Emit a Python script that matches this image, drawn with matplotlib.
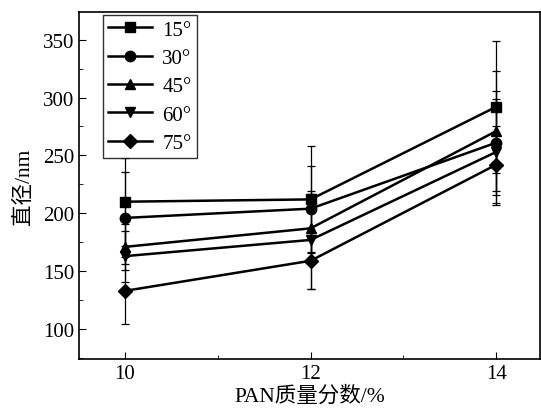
import matplotlib
matplotlib.use('Agg')
import matplotlib.pyplot as plt
from matplotlib.ticker import MultipleLocator
from matplotlib.lines import Line2D

plt.rcParams['font.family'] = ['Liberation Serif', 'Noto Sans CJK SC']

x = [10, 12, 14]
labels = ['15°', '30°', '45°', '60°', '75°']
markers = ['s', 'o', '^', 'v', 'D']
means = [
    [210, 212, 292],
    [196, 204, 261],
    [171, 187, 271],
    [163, 177, 253],
    [133, 159, 242],
]
errs = [
    [38, 46, 57],
    [40, 37, 45],
    [20, 30, 52],
    [22, 42, 46],
    [29, 24, 33],
]

fig = plt.figure(figsize=(5.41, 4.14), dpi=100)
ax = fig.add_axes([0.146, 0.130, 0.852, 0.839])

handles = []
for m, e, lab, mk in zip(means, errs, labels, markers):
    ms = 7.5 if mk != 'D' else 7
    ax.errorbar(x, m, yerr=e, color='black', lw=1.8, marker=mk,
                ms=ms, elinewidth=0.9, capsize=3,
                capthick=0.9)
    handles.append(Line2D([], [], color='black', lw=1.8, marker=mk,
                          ms=ms, label=lab))

ax.set_xlim(9.505, 14.47)
ax.set_ylim(74, 374)
ax.set_xticks([10, 12, 14])
ax.xaxis.set_minor_locator(MultipleLocator(1))
ax.yaxis.set_minor_locator(MultipleLocator(25))
ax.set_yticks([100, 150, 200, 250, 300, 350])
ax.tick_params(direction='in', which='both', labelsize=15, length=5)
ax.tick_params(which='minor', length=3)
for s in ax.spines.values():
    s.set_linewidth(1.2)

ax.set_xlabel('PAN质量分数/%', fontsize=15.5, labelpad=2)
ax.set_ylabel('直径/nm', fontsize=15.5, labelpad=6)

leg = ax.legend(handles=handles, loc='upper left',
                bbox_to_anchor=(0.045, 1.0), fontsize=15,
                frameon=True, fancybox=False, edgecolor='black',
                handlelength=2.1, borderpad=0.25, labelspacing=0.42,
                handletextpad=0.5, borderaxespad=0.15)
leg.get_frame().set_linewidth(1.0)

fig.savefig('out.png', dpi=100)
